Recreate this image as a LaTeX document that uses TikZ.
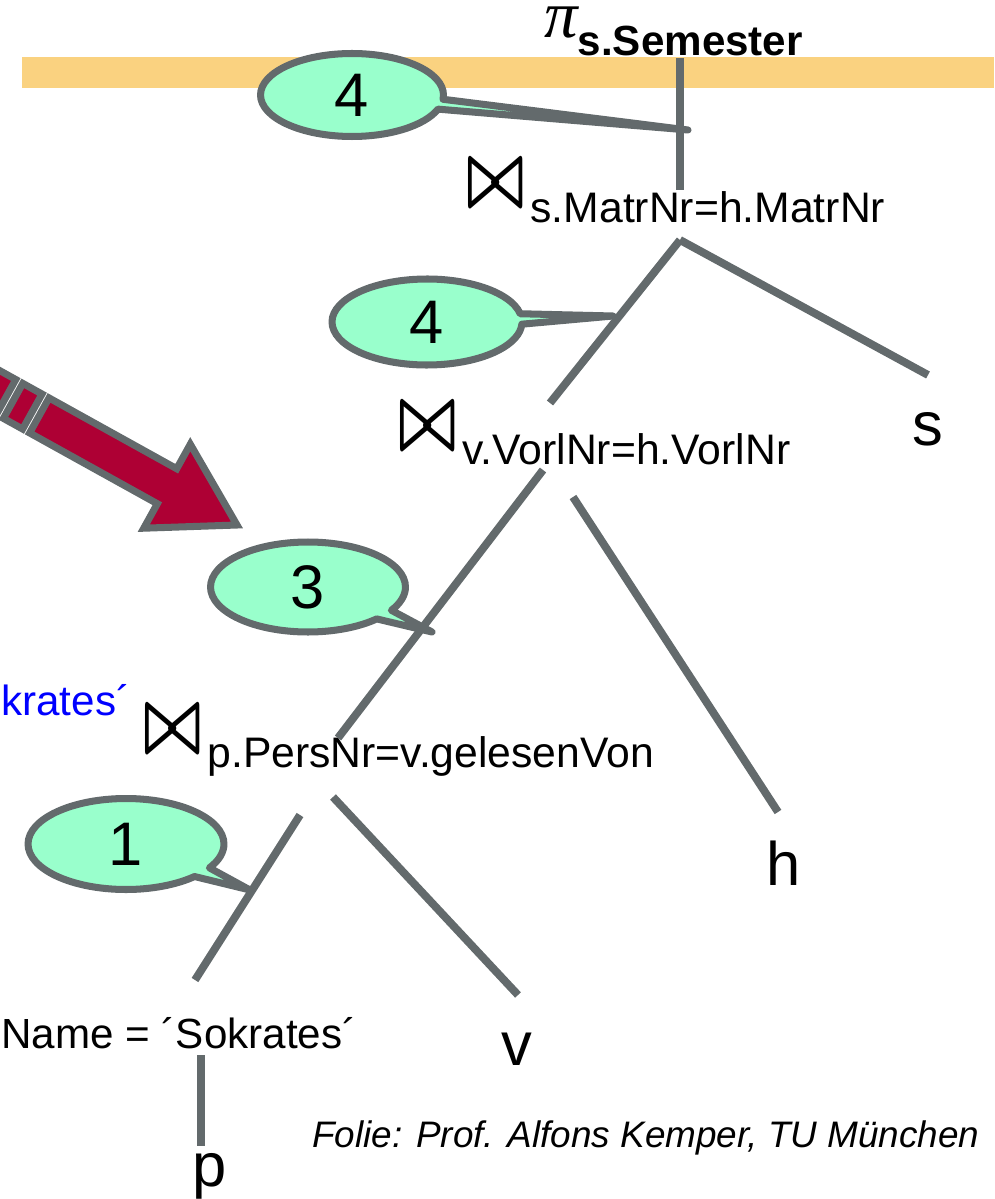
\documentclass[tikz,border=0pt]{standalone}
\usepackage{graphicx}
\usepackage{fontspec}
\setmainfont{Liberation Sans}
\newfontfamily\greekfont{Liberation Serif}
\usetikzlibrary{positioning, shapes.callouts}

\definecolor{treegray}{RGB}{99,106,108}
\definecolor{bubblegreen}{RGB}{153,255,204}
\definecolor{bandorange}{RGB}{250,210,128}
\definecolor{arrowred}{RGB}{174,0,52}

\newcommand{\joinop}[1]{\resizebox{33.5pt}{24.5pt}{\boldmath$\bowtie$}\hspace{3pt}\raisebox{-9.5pt}{#1}}

\begin{document}
\begin{tikzpicture}[x=0.02cm, y=-0.02cm,
  edge/.style={draw=treegray, line width=4.5pt},
  bubble/.style={ellipse callout, draw=treegray, fill=bubblegreen, line width=4pt, line join=round, inner sep=0pt, font=\fontsize{35}{40}\selectfont, callout pointer arc=14},
  leaf/.style={anchor=base, inner sep=0pt, font=\fontsize{35}{40}\selectfont},
  joinnode/.style={anchor=base west, inner sep=0pt, font=\fontsize{24.3}{28}\selectfont}]

\useasboundingbox (0,0) rectangle (994,1199);

\fill[bandorange] (22,57) rectangle (994,88);

\node[anchor=base west, inner sep=0pt] (pi) at (544,38) {\raisebox{0pt}[16pt][0pt]{\greekfont\itshape\fontsize{38}{42}\selectfont π}\raisebox{-10pt}{\bfseries\fontsize{24}{28}\selectfont s.Semester}};

\node[joinnode] (j1) at (466,206) {\joinop{s.MatrNr=h.MatrNr}};
\node[joinnode] (j2) at (398,448) {\joinop{v.VorlNr=h.VorlNr}};
\node[joinnode] (j3) at (143,751) {\joinop{p.PersNr=v.gelesenVon}};

\node[leaf] (s) at (928,445) {s};
\node[leaf] (h) at (784,885) {h};
\node[leaf] (v) at (517,1065) {v};
\node[leaf] (p) at (210,1186) {p};

\node[anchor=base west, inner sep=0pt, font=\fontsize{24}{28}\selectfont] (sel) at (1,1048) {Name = ´Sokrates´};
\node[anchor=base west, inner sep=0pt, font=\fontsize{24}{28}\selectfont, text=blue] (cut) at (1,715) {krates´};

\node[anchor=base west, inner sep=0pt, font=\fontsize{21}{25}\selectfont\itshape] (credit) at (312,1147) {Folie: Prof. Alfons Kemper, TU München};

% ends of the tree edges
\coordinate (pi-b) at (680,58);
\coordinate (j1-t) at (680,190);
\coordinate (j1-b) at (680,240);
\coordinate (j2-t) at (550,403);
\coordinate (s-t) at (928,375);
\coordinate (j2-l) at (543,470);
\coordinate (j3-t) at (338,738);
\coordinate (j2-r) at (573,497);
\coordinate (h-t) at (778,812);
\coordinate (j3-l) at (300,815);
\coordinate (sel-t) at (195,980);
\coordinate (j3-r) at (333,797);
\coordinate (v-t) at (518,995);
\coordinate (sel-b) at (201,1055);
\coordinate (p-t) at (201,1146);

\draw[edge] (pi-b) -- (j1-t);
\draw[edge] (j1-b) -- (j2-t);
\draw[edge] (j1-b) -- (s-t);
\draw[edge] (j2-l) -- (j3-t);
\draw[edge] (j2-r) -- (h-t);
\draw[edge] (j3-l) -- (sel-t);
\draw[edge] (j3-r) -- (v-t);
\draw[edge] (sel-b) -- (p-t);

% cost bubbles
\node[bubble, minimum width=3.66cm, minimum height=1.66cm, callout absolute pointer={(688,130)}] (c4a) at (352,95) {4};
\node[bubble, minimum width=3.8cm, minimum height=1.72cm, callout absolute pointer={(613,316)}] (c4b) at (427,322) {4};
\node[bubble, minimum width=3.9cm, minimum height=1.8cm, callout absolute pointer={(432,632)}] (c3) at (308,587) {3};
\node[bubble, minimum width=3.92cm, minimum height=1.82cm, callout absolute pointer={(250,890)}] (c1) at (126,844) {1};

% striped arrow
\begin{scope}[shift={(237,525)}, rotate=-29]
\filldraw[draw=treegray, fill=arrowred, line width=4pt, line join=miter] (0,0) -- (-80,48) -- (-80,20) -- (-226,20) -- (-226,-20) -- (-80,-20) -- (-80,-48) -- cycle;
\filldraw[draw=treegray, fill=arrowred, line width=4pt] (-234,20) rectangle (-256,-20);
\filldraw[draw=treegray, fill=arrowred, line width=4pt] (-264,20) rectangle (-290,-20);
\end{scope}

\end{tikzpicture}
\end{document}
